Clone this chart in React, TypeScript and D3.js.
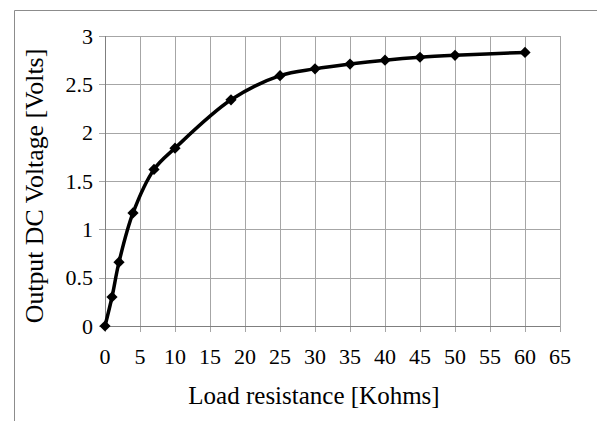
import React from "react";
import * as d3 from "d3";

const loadKohms = [0, 1, 2, 4, 7, 10, 18, 25, 30, 35, 40, 45, 50, 60];
const voltage = [0, 0.3, 0.66, 1.17, 1.62, 1.84, 2.34, 2.59, 2.66, 2.71, 2.75, 2.78, 2.8, 2.83];
const xTicks = [0, 5, 10, 15, 20, 25, 30, 35, 40, 45, 50, 55, 60, 65];
const yTicks = [0, 0.5, 1, 1.5, 2, 2.5, 3];
const xTitle = "Load resistance [Kohms]";
const yTitle = "Output DC Voltage [Volts]";

const W = 597, H = 421;
const L = 105, R = 560, T = 36, B = 326;
const font = "Liberation Serif";

export default function App() {
  const x = d3.scaleLinear().domain([0, 65]).range([L, R]);
  const y = d3.scaleLinear().domain([0, 3]).range([B, T]);
  const pts = loadKohms.map((k, i) => [k, voltage[i]] as [number, number]);
  const line = d3.line<[number, number]>().x(d => x(d[0])).y(d => y(d[1])).curve(d3.curveCatmullRom.alpha(0.5));
  const diamond = d3.symbol().type(d3.symbolDiamond2).size(80)();
  return (
    <svg width={W} height={H} style={{ position: "absolute", left: 0, top: 0, background: "#fff" }}>
      <rect x={0} y={0} width={W} height={H} fill="#fff" />
      <line x1={14.5} y1={10.5} x2={W} y2={10.5} stroke="#8c8c8c" strokeWidth={1} />
      <line x1={14.5} y1={10.5} x2={14.5} y2={H} stroke="#8c8c8c" strokeWidth={1} />
      {xTicks.map(t => (
        <line key={"gx" + t} x1={Math.round(x(t)) + 0.5} x2={Math.round(x(t)) + 0.5} y1={T} y2={B + 6} stroke="#a6a6a6" strokeWidth={1} />
      ))}
      {yTicks.map(t => (
        <line key={"gy" + t} x1={L - 6} x2={R} y1={Math.round(y(t)) + 0.5} y2={Math.round(y(t)) + 0.5} stroke="#a6a6a6" strokeWidth={1} />
      ))}
      <line x1={L + 0.5} x2={L + 0.5} y1={T} y2={B + 1} stroke="#7f7f7f" strokeWidth={1} />
      <line x1={L} x2={R} y1={B + 0.5} y2={B + 0.5} stroke="#7f7f7f" strokeWidth={1} />
      {xTicks.map(t => (
        <text key={"tx" + t} x={x(t)} y={364} textAnchor="middle" fontFamily={font} fontSize={22} fill="#000">{t}</text>
      ))}
      {yTicks.map(t => (
        <text key={"ty" + t} x={93} y={y(t) + 7.5} textAnchor="end" fontFamily={font} fontSize={22} fill="#000">{t}</text>
      ))}
      <path d={line(pts) || ""} fill="none" stroke="#000" strokeWidth={3.5} />
      {pts.map((p, i) => (
        <path key={"m" + i} d={diamond || ""} transform={`translate(${x(p[0])},${y(p[1])})`} fill="#000" />
      ))}
      <text x={314} y={404} textAnchor="middle" fontFamily={font} fontSize={25} fill="#000">{xTitle}</text>
      <text transform={`translate(43,186) rotate(-90)`} textAnchor="middle" fontFamily={font} fontSize={25.8} fill="#000">{yTitle}</text>
    </svg>
  );
}
